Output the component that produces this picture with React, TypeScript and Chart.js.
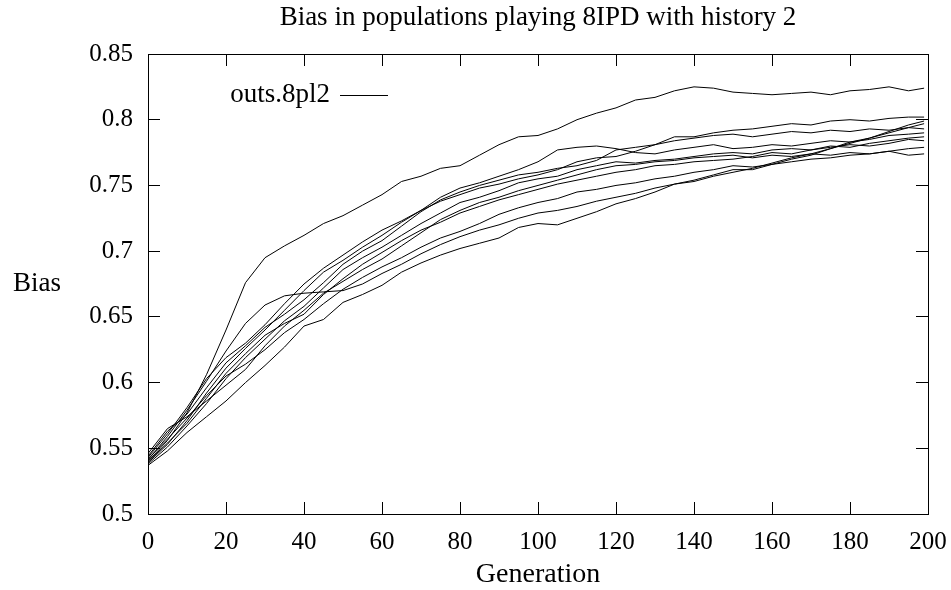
import { useEffect, useRef } from "react";
import { Chart, registerables } from "chart.js";

Chart.register(...registerables);

const chartTitle = "Bias in populations playing 8IPD with history 2";
const xAxisLabel = "Generation";
const yAxisLabel = "Bias";
const seriesLabel = "outs.8pl2";

const generations = [
  0, 5, 10, 15, 20, 25, 30, 35, 40, 45, 50, 55, 60, 65, 70, 75, 80, 85, 90, 95,
  100, 105, 110, 115, 120, 125, 130, 135, 140, 145, 150, 155, 160, 165, 170, 175,
  180, 185, 190, 195, 199,
];

const runA = [0.540,0.556,0.577,0.606,0.640,0.676,0.695,0.704,0.712,0.721,0.727,0.735,0.743,0.753,0.757,0.763,0.765,0.773,0.781,0.787,0.788,0.793,0.800,0.805,0.809,0.815,0.817,0.822,0.825,0.824,0.821,0.820,0.819,0.820,0.821,0.819,0.822,0.823,0.825,0.822,0.824];
const runB = [0.541,0.559,0.579,0.601,0.624,0.645,0.659,0.666,0.668,0.669,0.670,0.675,0.683,0.690,0.698,0.705,0.711,0.716,0.720,0.725,0.729,0.731,0.734,0.738,0.741,0.744,0.748,0.751,0.753,0.757,0.760,0.763,0.767,0.771,0.774,0.778,0.782,0.786,0.790,0.794,0.797];
const runC = [0.543,0.561,0.581,0.603,0.619,0.630,0.644,0.660,0.675,0.687,0.697,0.707,0.716,0.723,0.731,0.741,0.748,0.752,0.757,0.762,0.768,0.777,0.779,0.780,0.778,0.775,0.774,0.777,0.779,0.781,0.778,0.779,0.781,0.780,0.782,0.784,0.783,0.785,0.788,0.789,0.790];
const runD = [0.539,0.553,0.571,0.592,0.611,0.626,0.640,0.655,0.670,0.684,0.693,0.703,0.712,0.722,0.731,0.738,0.743,0.748,0.751,0.755,0.758,0.762,0.768,0.771,0.772,0.776,0.781,0.784,0.786,0.788,0.789,0.787,0.789,0.791,0.790,0.792,0.791,0.793,0.792,0.794,0.793];
const runE = [0.544,0.563,0.576,0.596,0.615,0.628,0.642,0.652,0.663,0.676,0.690,0.700,0.708,0.719,0.730,0.739,0.745,0.750,0.754,0.758,0.760,0.763,0.765,0.769,0.777,0.779,0.781,0.787,0.787,0.790,0.792,0.793,0.795,0.797,0.796,0.799,0.800,0.799,0.801,0.802,0.802];
const runF = [0.538,0.551,0.567,0.584,0.603,0.619,0.633,0.647,0.658,0.672,0.686,0.695,0.703,0.712,0.721,0.729,0.737,0.741,0.746,0.752,0.755,0.757,0.762,0.765,0.768,0.767,0.769,0.770,0.772,0.774,0.775,0.774,0.777,0.778,0.777,0.779,0.781,0.780,0.782,0.785,0.784];
const runG = [0.540,0.554,0.569,0.588,0.607,0.622,0.636,0.645,0.652,0.667,0.679,0.690,0.699,0.708,0.716,0.722,0.729,0.734,0.739,0.743,0.747,0.751,0.754,0.757,0.760,0.762,0.765,0.766,0.768,0.769,0.770,0.772,0.775,0.774,0.777,0.780,0.779,0.782,0.784,0.786,0.787];
const runH = [0.542,0.557,0.573,0.590,0.605,0.614,0.625,0.638,0.648,0.660,0.671,0.680,0.688,0.695,0.703,0.710,0.715,0.721,0.728,0.733,0.737,0.740,0.745,0.747,0.750,0.752,0.755,0.757,0.760,0.762,0.765,0.764,0.766,0.768,0.770,0.771,0.773,0.774,0.776,0.778,0.779];
const runI = [0.546,0.565,0.574,0.586,0.598,0.610,0.628,0.643,0.655,0.668,0.677,0.686,0.694,0.704,0.714,0.724,0.731,0.737,0.741,0.746,0.750,0.754,0.758,0.762,0.765,0.766,0.768,0.769,0.771,0.772,0.773,0.771,0.773,0.772,0.774,0.773,0.775,0.774,0.776,0.773,0.774];
const runL = [0.537,0.548,0.562,0.574,0.586,0.600,0.613,0.627,0.643,0.648,0.661,0.667,0.674,0.684,0.691,0.697,0.702,0.706,0.710,0.718,0.721,0.720,0.725,0.730,0.736,0.740,0.745,0.751,0.754,0.758,0.762,0.762,0.766,0.770,0.773,0.778,0.783,0.786,0.791,0.796,0.799];

const xTickStep = 20;
const yTickStep = 0.05;

const FONT = "'Liberation Serif', 'Times New Roman', serif";

export default function App() {
  const ref = useRef<HTMLCanvasElement>(null);

  useEffect(() => {
    document.body.style.margin = "0";
    const canvas = ref.current;
    if (!canvas) return;
    const runs = [runA, runB, runC, runD, runE, runF, runG, runH, runI, runL];
    const datasets = runs.map((run) => ({
      label: seriesLabel,
      data: generations.map((g, i) => ({ x: g, y: run[i] })),
      borderColor: "#000",
      backgroundColor: "#000",
      borderWidth: 1,
      pointRadius: 0,
      fill: false,
      tension: 0,
    }));

    const gnuplotText = {
      id: "gnuplotText",
      afterDraw(chart: any) {
        const { ctx, chartArea } = chart;
        ctx.save();
        ctx.fillStyle = "#000";
        ctx.font = `27px ${FONT}`;
        ctx.textBaseline = "middle";
        ctx.textAlign = "center";
        ctx.fillText(yAxisLabel, 37, (chartArea.top + chartArea.bottom) / 2);
        // key
        const ky = chartArea.top + 41;
        ctx.textAlign = "right";
        ctx.fillText(chart.data.datasets[0].label, chartArea.left + 182, ky);
        ctx.strokeStyle = "#000";
        ctx.lineWidth = 1;
        ctx.beginPath();
        ctx.moveTo(chartArea.left + 192, Math.round(ky) + 0.5);
        ctx.lineTo(chartArea.left + 240, Math.round(ky) + 0.5);
        ctx.stroke();
        ctx.restore();
      },
    };

    const tickFmt = (v: any) => String(Number(Number(v).toFixed(2)));

    const chart = new Chart(canvas, {
      type: "line",
      data: { datasets: datasets as any },
      options: {
        responsive: false,
        animation: false,
        layout: { padding: { left: 0, right: 23, top: 0, bottom: 0 } },
        plugins: {
          legend: { display: false },
          tooltip: { enabled: false },
          title: {
            display: true,
            text: chartTitle,
            fullSize: false,
            color: "#000",
            font: { family: FONT, size: 27, weight: "normal", lineHeight: 1.2 },
            padding: { top: 2, bottom: 19.6 },
          } as any,
        },
        scales: {
          x: {
            type: "linear",
            position: "bottom",
            min: 0,
            max: 200,
            ticks: {
              stepSize: xTickStep,
              color: "#000",
              font: { family: FONT, size: 25 },
              padding: 25,
              maxRotation: 0,
              autoSkip: false,
            },
            grid: { drawOnChartArea: false, color: "#000", tickLength: -12, lineWidth: 1 },
            border: { color: "#000", width: 1 },
            title: {
              display: true,
              text: xAxisLabel,
              color: "#000",
              font: { family: FONT, size: 28, lineHeight: 1 },
              padding: { top: 0, bottom: 1 },
            },
            afterFit(s: any) {
              s.height = 76;
              s.paddingLeft = 0;
              s.paddingRight = 0;
            },
          },
          y: {
            type: "linear",
            position: "left",
            min: 0.5,
            max: 0.85,
            ticks: {
              stepSize: yTickStep,
              color: "#000",
              font: { family: FONT, size: 25 },
              padding: 27,
              callback: tickFmt,
            },
            grid: { drawOnChartArea: false, color: "#000", tickLength: -12, lineWidth: 1 },
            border: { color: "#000", width: 1 },
            afterFit(s: any) {
              s.width = 148;
              s.paddingTop = 0;
              s.paddingBottom = 0;
            },
          },
          x2: {
            type: "linear",
            position: "top",
            min: 0,
            max: 200,
            ticks: { display: false, stepSize: xTickStep },
            grid: { drawOnChartArea: false, color: "#000", tickLength: -12, lineWidth: 1 },
            border: { color: "#000", width: 1 },
            afterFit(s: any) {
              s.height = 0;
              s.paddingLeft = 0;
              s.paddingRight = 0;
            },
          },
          y2: {
            type: "linear",
            position: "right",
            min: 0.5,
            max: 0.85,
            ticks: { display: false, stepSize: yTickStep },
            grid: { drawOnChartArea: false, color: "#000", tickLength: -12, lineWidth: 1 },
            border: { color: "#000", width: 1 },
            afterFit(s: any) {
              s.width = 0;
              s.paddingTop = 0;
              s.paddingBottom = 0;
            },
          },
        } as any,
      },
      plugins: [gnuplotText],
    });

    return () => chart.destroy();
  }, []);

  return (
    <div style={{ width: 951, height: 590 }}>
      <canvas ref={ref} width={951} height={590} style={{ display: "block" }} />
    </div>
  );
}
